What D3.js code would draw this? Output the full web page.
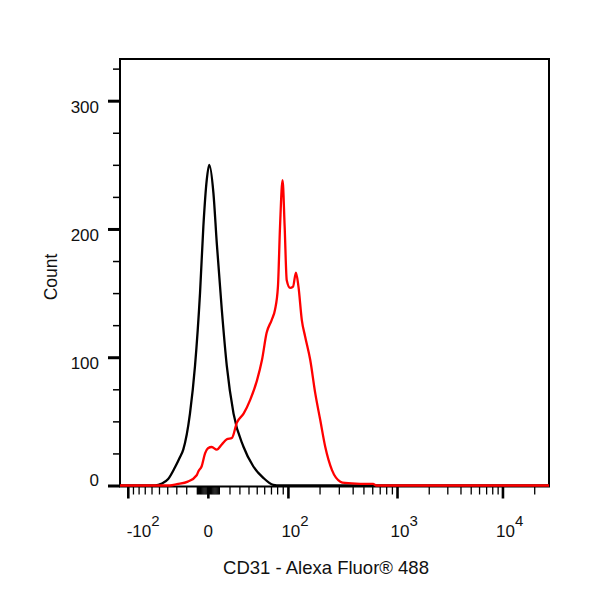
<!DOCTYPE html>
<html>
<head>
<meta charset="utf-8">
<script src="https://cdn.jsdelivr.net/npm/d3@7"></script>
<style>
  body { margin: 0; background: #fff; }
  text { font-family: "Liberation Sans", Arial, sans-serif; fill: #111; }
</style>
</head>
<body>
<svg id="chart" width="600" height="600"></svg>
<script>
// histogram channels (1024-channel display) and event counts
var blackChan  = [0, 84, 100, 115, 131, 143, 151, 167, 179, 191, 199, 207, 213, 223, 231, 243, 255, 271, 295, 318, 342, 366, 382, 1024];
var blackCount = [0, 0, 1.5, 5, 14, 22, 28, 56, 93, 150, 202, 238, 250, 228, 189, 137, 93, 56, 30, 15, 6, 0.5, 0, 0];

var redChan  = [0, 119, 136, 162, 183, 187, 195, 203, 210, 219, 231, 243, 255, 267, 279, 295, 311, 327, 339, 350,
                362, 370, 377, 382, 388, 393, 398, 406, 413, 420, 426, 434, 442, 454, 466, 478, 490, 506, 526, 537,
                573, 604, 612, 1024];
var redCount = [0, 0, 1, 3, 8, 11, 15, 25, 29, 30, 28, 32, 36, 37, 49, 56, 67, 82, 98, 119,
                129, 137, 155, 202, 238, 202, 160, 154, 155, 166, 155, 129, 116, 98, 72, 51, 30, 12, 3, 2,
                1.3, 1.2, 0, 0];

// biexponential axis calibration: value -> channel
var decadeValues   = [-100, 0, 100, 1000, 10000];
var decadeChannels = [19.8, 210.9, 402, 662.4, 914.1];

var xMajor     = [-100, 0, 100, 1000, 10000];
var xLabelBase = ["-10", "0", "10", "10", "10"];
var xLabelExp  = ["2", "", "2", "3", "4"];

var yMajor = [0, 100, 200, 300];
var yMinor = [25, 50, 75, 125, 150, 175, 225, 250, 275, 325];

var xTitle = "CD31 - Alexa Fluor\u00ae 488";
var yTitle = "Count";

var margin = { top: 59, left: 120 };
var width = 429, height = 426.5;

var svg = d3.select("#chart");
var g = svg.append("g")
    .attr("transform", "translate(" + margin.left + "," + margin.top + ")");

var x = d3.scaleLinear().domain([0, 1024]).range([0, width]);
var y = d3.scaleLinear().domain([0, 332.5]).range([height, 0]);

function asinhT(v) { return Math.asinh(v / 50); }
var toChannel = d3.scaleLinear().domain(decadeValues.map(asinhT)).range(decadeChannels);
function xv(v) { return x(toChannel(asinhT(v))); }

// minor ticks of every decade, mirrored below zero
var xMinor = [];
[1, 10, 100, 1000, 10000].forEach(function (dec) {
    d3.range(1, 10).forEach(function (k) {
        var v = k * dec;
        if (xMajor.indexOf(v) < 0) {
            xMinor.push(v);
            if (v < 100) xMinor.push(-v);
        }
    });
});
xMinor = xMinor.filter(function (v) { return xv(v) >= 0 && xv(v) <= width; });

// frame
g.append("rect")
    .attr("width", width)
    .attr("height", height + 1)
    .attr("fill", "none")
    .attr("stroke", "#000")
    .attr("stroke-width", 2);

// x ticks
g.selectAll(".xminor")
    .data(xMinor)
    .enter().append("line")
    .attr("class", "xminor")
    .attr("x1", xv).attr("x2", xv)
    .attr("y1", height + 1).attr("y2", height + 9)
    .attr("stroke", "#000").attr("stroke-width", 1.3);

g.selectAll(".xmajor")
    .data(xMajor)
    .enter().append("line")
    .attr("class", "xmajor")
    .attr("x1", xv).attr("x2", xv)
    .attr("y1", height + 1).attr("y2", height + 13)
    .attr("stroke", "#000").attr("stroke-width", 2.6);

var xl = g.selectAll(".xlabel")
    .data(xMajor)
    .enter().append("text")
    .attr("class", "xlabel")
    .attr("font-size", 17)
    .attr("y", height + 51)
    .attr("x", function (d, i) { return xLabelExp[i] ? Math.max(xv(d) - 7, 6.7) : xv(d); })
    .attr("text-anchor", function (d, i) { return xLabelExp[i] ? "start" : "middle"; });
xl.append("tspan").text(function (d, i) { return xLabelBase[i]; });
xl.append("tspan")
    .attr("font-size", 15)
    .attr("dy", -11)
    .text(function (d, i) { return xLabelExp[i]; });

// y ticks
var yMinorAxis = g.append("g")
    .attr("class", "axis axis--y-minor")
    .call(d3.axisLeft(y).tickValues(yMinor).tickSize(7).tickFormat(""));
yMinorAxis.select(".domain").remove();
yMinorAxis.selectAll("line").attr("stroke-width", 1.5);

var yAxis = g.append("g")
    .attr("class", "axis axis--y")
    .call(d3.axisLeft(y).tickValues(yMajor).tickSize(12).tickPadding(9));
yAxis.select(".domain").remove();
yAxis.selectAll("line").attr("stroke-width", 3);
yAxis.selectAll("text")
    .attr("font-size", 17)
    .attr("fill", "#111")
    .attr("dy", function (d) { return d === 0 ? "0em" : "0.68em"; });
yAxis.attr("font-family", null).attr("font-size", null);

// histograms
var line = d3.line()
    .x(function (d) { return x(d[0]); })
    .y(function (d) { return y(d[1]); })
    .curve(d3.curveMonotoneX);

g.append("path")
    .datum(d3.zip(blackChan, blackCount))
    .attr("fill", "none")
    .attr("stroke", "#000")
    .attr("stroke-width", 2.3)
    .attr("d", line);

g.append("path")
    .datum(d3.zip(redChan, redCount))
    .attr("fill", "none")
    .attr("stroke", "#ff0000")
    .attr("stroke-width", 2.3)
    .attr("d", line);

// titles
svg.append("text")
    .attr("x", 326)
    .attr("y", 574)
    .attr("text-anchor", "middle")
    .attr("font-size", 18.5)
    .text(xTitle);

svg.append("text")
    .attr("transform", "translate(57,277) rotate(-90)")
    .attr("text-anchor", "middle")
    .attr("font-size", 17.5)
    .text(yTitle);
</script>
</body>
</html>
